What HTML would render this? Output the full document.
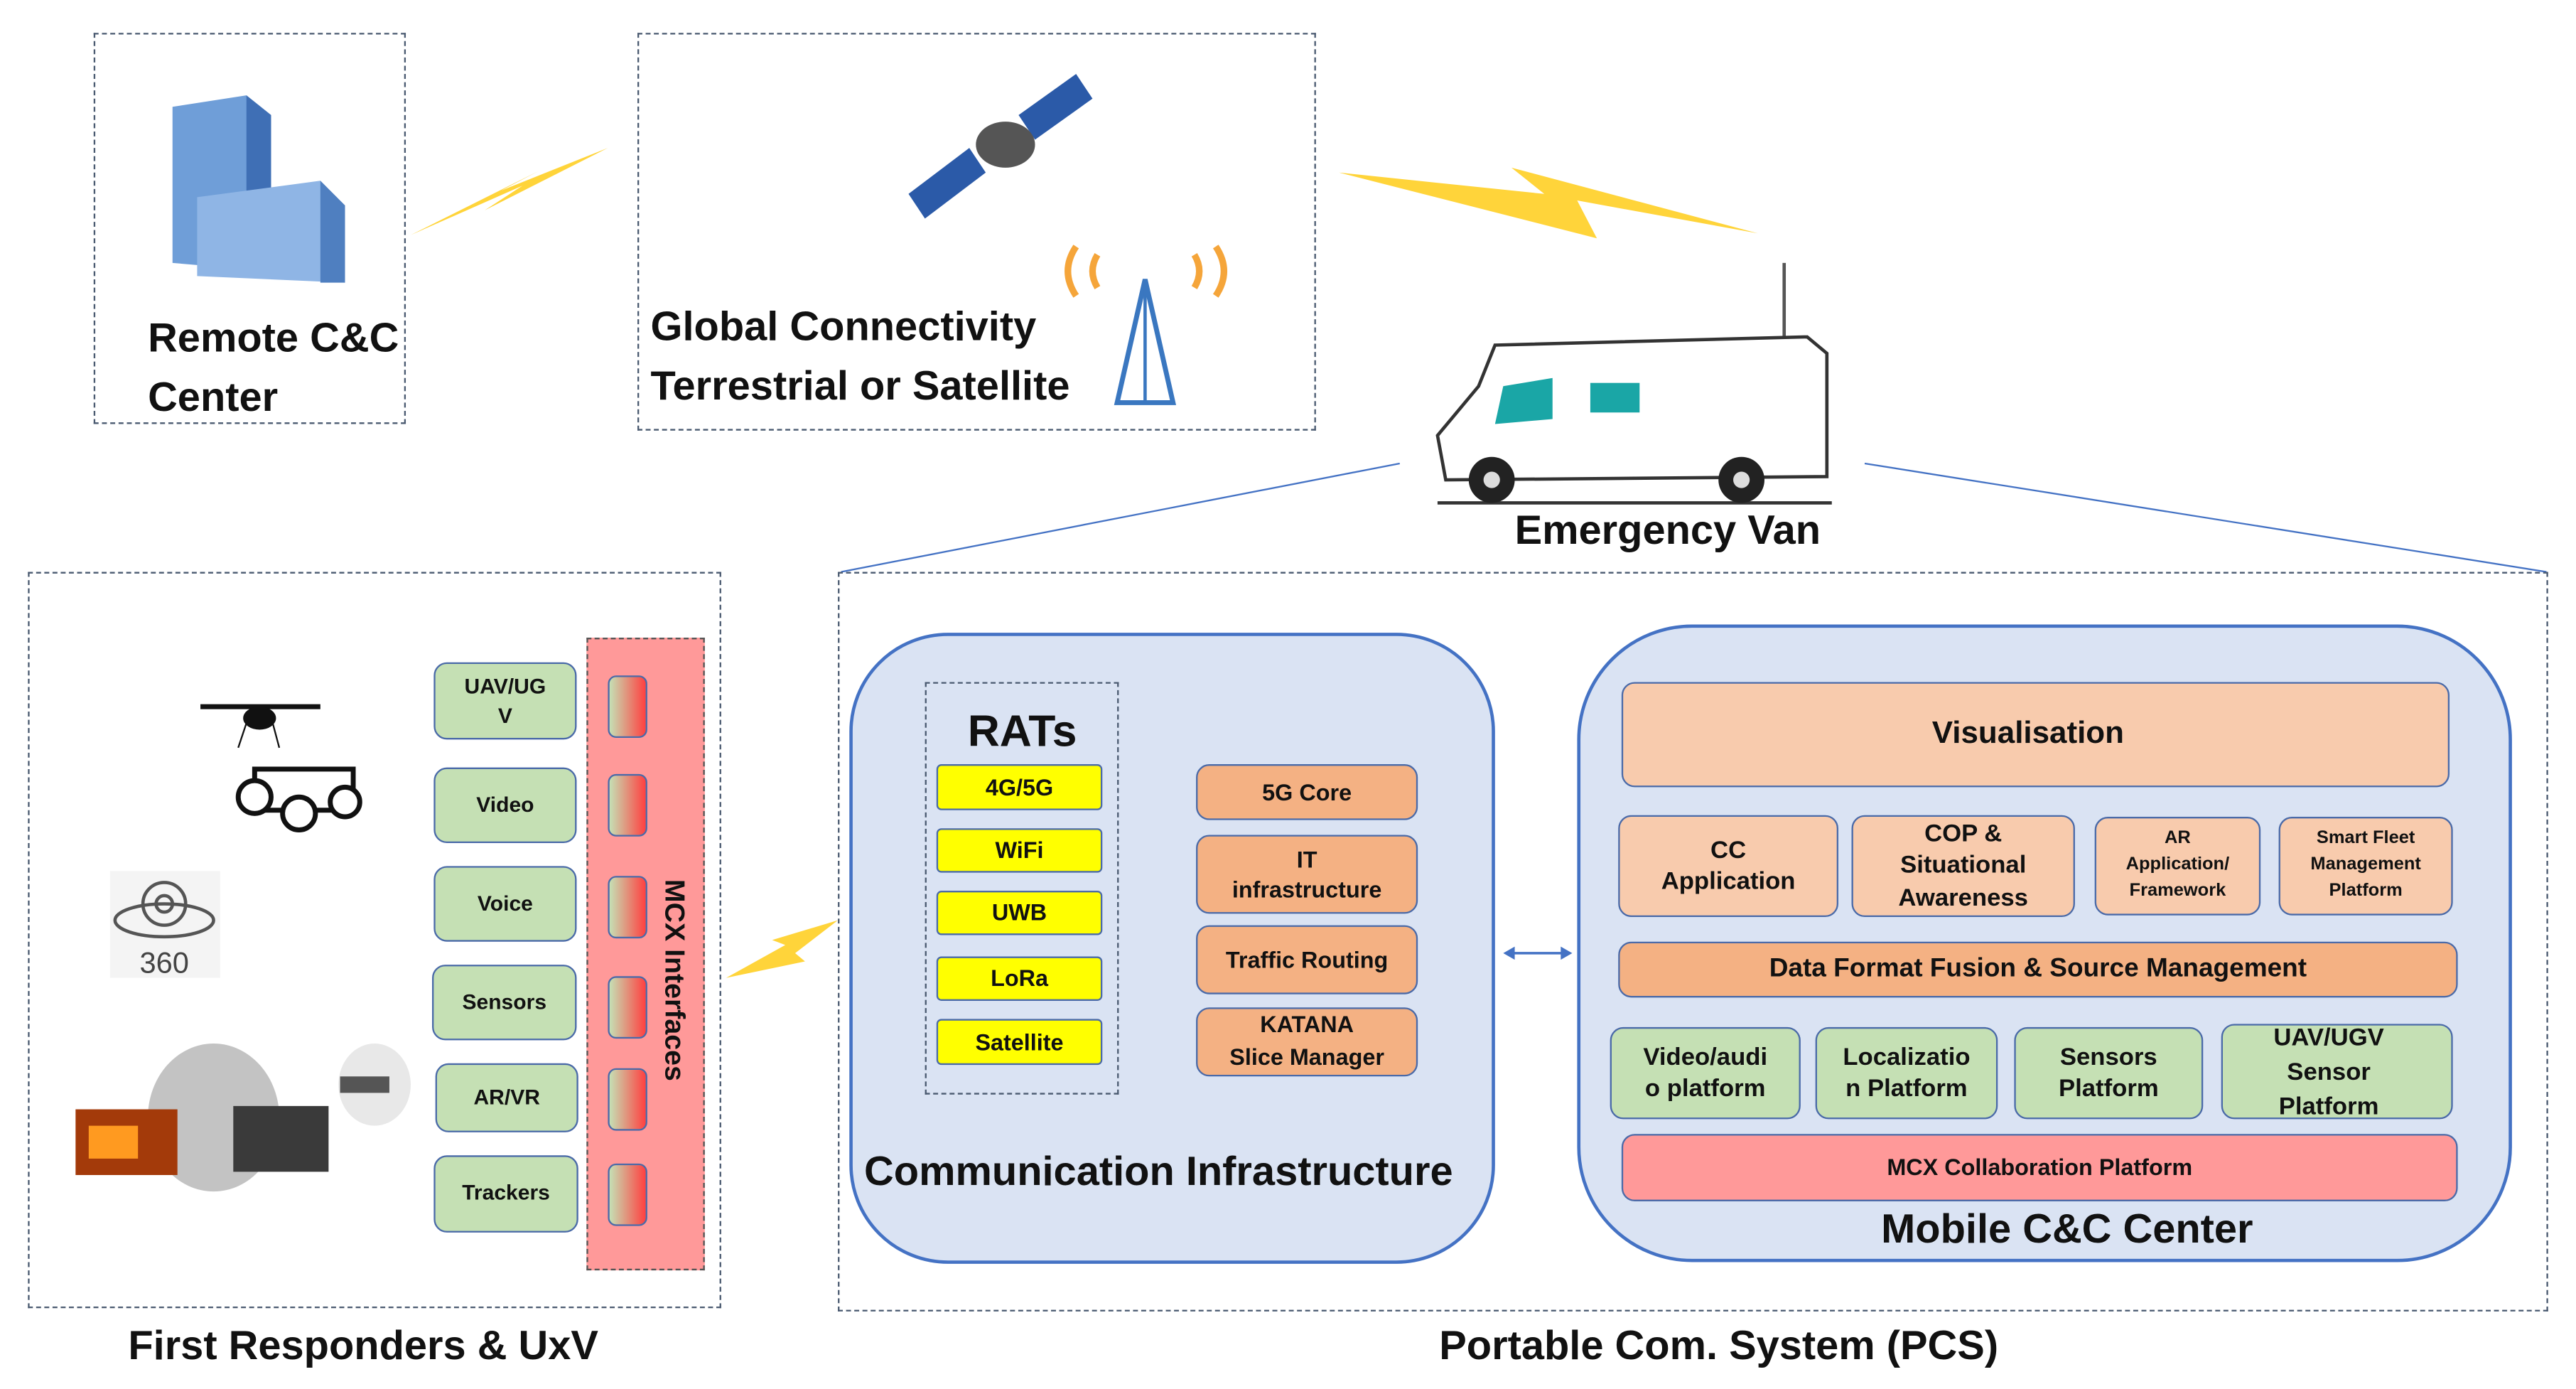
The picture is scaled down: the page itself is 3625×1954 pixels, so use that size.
<!DOCTYPE html>
<html><head><meta charset="utf-8">
<style>
html,body{margin:0;padding:0;background:#fff;}
body{width:3625px;height:1954px;overflow:hidden;}
#s{position:absolute;left:0;top:0;width:1568px;height:845px;transform:scale(2.3119);transform-origin:0 0;font-family:"Liberation Sans",sans-serif;color:#111;}
.a{position:absolute;box-sizing:border-box;}
.d{border:1.5px dashed #4a5a70;}
.t{position:absolute;white-space:nowrap;font-weight:bold;}
.bx{position:absolute;box-sizing:border-box;border:1.8px solid #4a6aa8;border-radius:8px;display:flex;align-items:center;justify-content:center;text-align:center;font-weight:bold;line-height:1.3;}
.g{background:#c5e0b4;}
.o{background:#f4b183;}
.p{background:#f8cbad;}
.y{background:#ffff00;border-radius:3px;font-size:14px;}
.gr{position:absolute;width:24px;height:38px;border:1.5px solid #4a6aa8;border-radius:5px;box-sizing:border-box;background:linear-gradient(90deg,#c5e0b4,#ff4040);left:370px;}
.big{position:absolute;box-sizing:border-box;background:#dae3f3;border:2px solid #4472c4;}
</style></head><body><div id="s">

<svg class="a" style="left:0;top:0" width="1568" height="845">
 <line x1="852" y1="282" x2="512" y2="348" stroke="#4472c4" stroke-width="1"/>
 <line x1="1135" y1="282" x2="1550" y2="348" stroke="#4472c4" stroke-width="1"/>
 <polygon points="250,143 318,113 295,128 370,90 305,116 328,104" fill="#ffd43a"/>
 <polygon points="815,105 940,118 920,102 1070,142 960,122 972,145" fill="#ffd43a"/>
 <polygon points="442,595 478,575 470,572 510,560 484,580 490,585" fill="#ffd43a"/>
 <!-- double arrow -->
 <line x1="920" y1="580" x2="952" y2="580" stroke="#4472c4" stroke-width="1.5"/>
 <polygon points="915,580 922,576 922,584" fill="#4472c4"/>
 <polygon points="957,580 950,576 950,584" fill="#4472c4"/>
 <!-- building -->
 <polygon points="105,65 150,58 165,70 165,165 105,160" fill="#6f9ed8"/>
 <polygon points="150,58 165,70 165,165 150,165" fill="#3f6fb5"/>
 <polygon points="120,120 195,110 210,125 210,172 120,168" fill="#8fb5e5"/>
 <polygon points="195,110 210,125 210,172 195,172" fill="#4f7fc0"/>
 <!-- satellite -->
 <polygon points="553,118 590,90 600,105 563,133" fill="#2b5aa8"/>
 <polygon points="620,70 655,45 665,60 630,85" fill="#2b5aa8"/>
 <ellipse cx="612" cy="88" rx="18" ry="14" fill="#555"/>
 <!-- signal + tower -->
 <path d="M655,150 Q645,165 655,180 M740,150 Q750,165 740,180 M668,155 Q662,165 668,175 M727,155 Q733,165 727,175" stroke="#f5a53a" stroke-width="4" fill="none"/>
 <polygon points="697,170 680,245 714,245" fill="none" stroke="#3a77c0" stroke-width="3"/>
 <line x1="697" y1="170" x2="697" y2="245" stroke="#3a77c0" stroke-width="2"/>
 <!-- van -->
 <line x1="1086" y1="160" x2="1086" y2="205" stroke="#555" stroke-width="2"/>
 <path d="M910,210 L1100,205 L1112,215 L1112,290 L880,292 L875,265 L900,235 Z" fill="#fff" stroke="#333" stroke-width="2"/>
 <polygon points="915,235 945,230 945,255 910,258" fill="#1aa6a6"/>
 <rect x="968" y="233" width="30" height="18" fill="#1aa6a6"/>
 <line x1="875" y1="306" x2="1115" y2="306" stroke="#333" stroke-width="2"/>
 <circle cx="908" cy="292" r="14" fill="#222"/><circle cx="908" cy="292" r="5" fill="#ddd"/>
 <circle cx="1060" cy="292" r="14" fill="#222"/><circle cx="1060" cy="292" r="5" fill="#ddd"/>
 <!-- drone -->
 <line x1="122" y1="430" x2="195" y2="430" stroke="#111" stroke-width="3"/>
 <ellipse cx="158" cy="437" rx="10" ry="7" fill="#111"/>
 <line x1="150" y1="440" x2="145" y2="455" stroke="#111"/><line x1="166" y1="440" x2="170" y2="455" stroke="#111"/>
 <!-- ugv -->
 <rect x="155" y="468" width="60" height="25" fill="none" stroke="#111" stroke-width="3"/>
 <circle cx="155" cy="485" r="10" fill="#fff" stroke="#111" stroke-width="3"/>
 <circle cx="182" cy="495" r="10" fill="#fff" stroke="#111" stroke-width="3"/>
 <circle cx="210" cy="488" r="9" fill="#fff" stroke="#111" stroke-width="3"/>
 <!-- 360 -->
 <rect x="67" y="530" width="67" height="65" fill="#f4f4f4"/>
 <circle cx="100" cy="550" r="13" fill="none" stroke="#555" stroke-width="2"/>
 <circle cx="100" cy="550" r="5" fill="none" stroke="#555" stroke-width="2"/>
 <ellipse cx="100" cy="560" rx="30" ry="10" fill="none" stroke="#555" stroke-width="2"/>
 <text x="85" y="592" font-family="Liberation Sans" font-size="18" fill="#444">360</text>
 <!-- fire scene -->
 <ellipse cx="130" cy="680" rx="40" ry="45" fill="#aaa" opacity="0.7"/>
 <rect x="46" y="675" width="62" height="40" fill="#a33a0a"/>
 <rect x="54" y="685" width="30" height="20" fill="#ff9a20"/>
 <rect x="142" y="673" width="58" height="40" fill="#3a3a3a"/>
 <ellipse cx="228" cy="660" rx="22" ry="25" fill="#e8e8e8"/>
 <rect x="207" y="655" width="30" height="10" fill="#555"/>
 <!-- visualisation laptop -->
 <rect x="1406" y="429" width="55" height="37" fill="none" stroke="#111" stroke-width="4"/>
 <rect x="1397" y="467" width="75" height="4" fill="#111"/>
 <g fill="none" stroke="#111" stroke-width="1.5">
  <rect x="1358" y="493" width="22" height="15"/><line x1="1353" y1="509" x2="1384" y2="509"/>
  <rect x="1477" y="490" width="22" height="15"/><line x1="1472" y1="506" x2="1503" y2="506"/>
  <rect x="1477" y="620" width="22" height="15"/><line x1="1472" y1="636" x2="1503" y2="636"/>
 </g>
</svg>

<div class="a d" style="left:57px;top:20px;width:190px;height:238px"></div>
<div class="t" style="left:90px;top:188px;font-size:25px;line-height:36px">Remote C&amp;C<br>Center</div>
<div class="a d" style="left:388px;top:20px;width:413px;height:242px"></div>
<div class="t" style="left:396px;top:181px;font-size:25px;line-height:36px">Global Connectivity<br>Terrestrial or Satellite</div>
<div class="t" style="left:922px;top:309px;font-size:25px">Emergency Van</div>

<div class="a d" style="left:17px;top:348px;width:422px;height:448px"></div>
<div class="t" style="left:78px;top:805px;font-size:25px">First Responders &amp; UxV</div>
<div class="a d" style="left:510px;top:348px;width:1041px;height:450px"></div>
<div class="t" style="left:876px;top:805px;font-size:25px">Portable Com. System (PCS)</div>

<div class="a" style="left:357px;top:388px;width:72px;height:385px;background:#ff9999;border:1.5px dashed #555"></div>
<div class="t" style="left:357px;top:560px;width:105px;font-size:17px;transform:rotate(90deg);transform-origin:0 0;left:420px;top:535px">MCX Interfaces</div>
<div class="gr" style="top:411px"></div><div class="gr" style="top:471px"></div><div class="gr" style="top:533px"></div>
<div class="gr" style="top:594px"></div><div class="gr" style="top:650px"></div><div class="gr" style="top:708px"></div>

<div class="bx g" style="left:264px;top:403px;width:87px;height:47px;font-size:13px;line-height:1.35">UAV/UG<br>V</div>
<div class="bx g" style="left:264px;top:467px;width:87px;height:46px;font-size:13px">Video</div>
<div class="bx g" style="left:264px;top:527px;width:87px;height:46px;font-size:13px">Voice</div>
<div class="bx g" style="left:263px;top:587px;width:88px;height:46px;font-size:13px">Sensors</div>
<div class="bx g" style="left:265px;top:647px;width:87px;height:42px;font-size:13px">AR/VR</div>
<div class="bx g" style="left:264px;top:703px;width:88px;height:47px;font-size:13px">Trackers</div>

<div class="big" style="left:517px;top:385px;width:393px;height:384px;border-radius:60px"></div>
<div class="a d" style="left:563px;top:415px;width:118px;height:251px"></div>
<div class="t" style="left:589px;top:430px;font-size:27px">RATs</div>
<div class="bx y" style="left:570px;top:465px;width:101px;height:28px">4G/5G</div>
<div class="bx y" style="left:570px;top:504px;width:101px;height:27px">WiFi</div>
<div class="bx y" style="left:570px;top:542px;width:101px;height:27px">UWB</div>
<div class="bx y" style="left:570px;top:582px;width:101px;height:27px">LoRa</div>
<div class="bx y" style="left:570px;top:620px;width:101px;height:28px">Satellite</div>
<div class="bx o" style="left:728px;top:465px;width:135px;height:34px;font-size:14px">5G Core</div>
<div class="bx o" style="left:728px;top:508px;width:135px;height:48px;font-size:14px">IT<br>infrastructure</div>
<div class="bx o" style="left:728px;top:563px;width:135px;height:42px;font-size:14px">Traffic Routing</div>
<div class="bx o" style="left:728px;top:613px;width:135px;height:42px;font-size:14px;line-height:1.4">KATANA<br>Slice Manager</div>
<div class="t" style="left:526px;top:699px;font-size:25px">Communication Infrastructure</div>

<div class="big" style="left:960px;top:380px;width:569px;height:388px;border-radius:70px"></div>
<div class="bx p" style="left:987px;top:415px;width:504px;height:64px;font-size:19px;padding-right:110px;justify-content:center"><span style="position:absolute;left:188px">Visualisation</span></div>
<div class="bx p" style="left:985px;top:496px;width:134px;height:62px;font-size:15px">CC<br>Application</div>
<div class="bx p" style="left:1127px;top:496px;width:136px;height:62px;font-size:15px;line-height:1.3">COP &amp;<br>Situational<br>Awareness</div>
<div class="bx p" style="left:1275px;top:497px;width:101px;height:60px;font-size:11px;line-height:1.45">AR<br>Application/<br>Framework</div>
<div class="bx p" style="left:1387px;top:497px;width:106px;height:60px;font-size:11px;line-height:1.45">Smart Fleet<br>Management<br>Platform</div>
<div class="bx o" style="left:985px;top:573px;width:511px;height:34px;font-size:16px">Data Format Fusion &amp; Source Management</div>
<div class="bx g" style="left:980px;top:625px;width:116px;height:56px;font-size:15px">Video/audi<br>o platform</div>
<div class="bx g" style="left:1105px;top:625px;width:111px;height:56px;font-size:15px">Localizatio<br>n Platform</div>
<div class="bx g" style="left:1226px;top:625px;width:115px;height:56px;font-size:15px">Sensors<br>Platform</div>
<div class="bx g" style="left:1352px;top:623px;width:141px;height:58px;font-size:15px;line-height:1.4;padding-right:10px">UAV/UGV<br>Sensor<br>Platform</div>
<div class="bx" style="left:987px;top:690px;width:509px;height:41px;font-size:14px;background:#ff9999">MCX Collaboration Platform</div>
<div class="t" style="left:1145px;top:734px;font-size:25px">Mobile C&amp;C Center</div>

</div></body></html>
